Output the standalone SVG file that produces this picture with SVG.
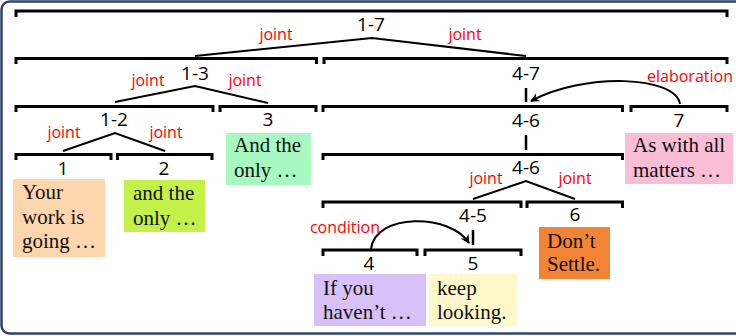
<svg xmlns="http://www.w3.org/2000/svg" width="736" height="336" viewBox="0 0 736 336">
<defs>
<style>
.br{fill:none;stroke:#000;stroke-width:3;stroke-linejoin:miter;stroke-linecap:butt}
.ln{fill:none;stroke:#000;stroke-width:2}
.tk{fill:none;stroke:#000;stroke-width:2.5}
.num{font-family:"Open Sans","Noto Sans",sans-serif;font-size:19px;fill:#000;text-anchor:middle}
.rel{font-family:"Open Sans","Noto Sans",sans-serif;font-size:16px;fill:#ff0000;text-anchor:middle}
.tx{font-family:"Liberation Serif","Times New Roman",serif;font-size:21px;fill:#111}
</style>
<marker id="ah" viewBox="0 0 10 10" refX="9" refY="5" markerWidth="9" markerHeight="9" markerUnits="userSpaceOnUse" orient="auto">
<path d="M0,0 L10,5 L0,10 L3,5 z" fill="#000"/>
</marker>
</defs>
<rect x="0" y="0" width="736" height="336" fill="#fff"/>
<rect x="1.5" y="1.5" width="745" height="332" rx="8" fill="none" stroke="#2E4468" stroke-width="2.5"/>

<g id="connectors">
<path class="br" d="M16 17V11H727V17"/>
<path class="br" d="M16 64V58.5H316.5V64"/>
<path class="br" d="M324 64V58.5H727V64"/>
<path class="br" d="M16 112V106.5H213V112"/>
<path class="br" d="M220 112V106.5H316V112"/>
<path class="br" d="M323 112V106.5H622.5V112"/>
<path class="br" d="M631 112V106.5H727V112"/>
<path class="br" d="M16 160V154.5H111V160"/>
<path class="br" d="M117.5 160V154.5H212V160"/>
<path class="br" d="M323 160V154.5H622.5V160"/>
<path class="br" d="M323 208V202H521V208"/>
<path class="br" d="M527 208V202H622.5V208"/>
<path class="br" d="M323 256V250H417V256"/>
<path class="br" d="M425 256V250H521V256"/>
<path class="ln" d="M195 56L372 38L526 56"/>
<path class="ln" d="M115 102L195 86L268 103"/>
<path class="ln" d="M63 151L115 133L165 151"/>
<path class="ln" d="M473 199L526 181L575 199"/>
<path class="tk" d="M526 88V102M526 135V150M473 230V245"/>
<path class="ln" d="M680 104C676 76 585 72 531 101" marker-end="url(#ah)"/>
<path class="ln" d="M371 249C375 213 450 213 469 243" marker-end="url(#ah)"/>
<text class="rel" x="276" y="40">joint</text>
<text class="rel" x="465" y="40">joint</text>
<text class="rel" x="148" y="86">joint</text>
<text class="rel" x="245" y="86">joint</text>
<text class="rel" x="64" y="138">joint</text>
<text class="rel" x="166" y="138">joint</text>
<text class="rel" x="486" y="184">joint</text>
<text class="rel" x="575" y="184">joint</text>
<text class="rel" x="690" y="82">elaboration</text>
<text class="rel" x="345" y="233">condition</text>
</g>

<g id="n1-7"><text class="num" x="371" y="31">1-7</text></g>
<g id="n1-3"><text class="num" x="195" y="80">1-3</text></g>
<g id="n4-7"><text class="num" x="526" y="80">4-7</text></g>
<g id="n1-2"><text class="num" x="114" y="126">1-2</text></g>
<g id="n4-6a"><text class="num" x="526" y="127">4-6</text></g>
<g id="n4-6b"><text class="num" x="526" y="174">4-6</text></g>
<g id="n4-5"><text class="num" x="473" y="222">4-5</text></g>

<g id="n1">
<text class="num" x="63" y="175">1</text>
<rect x="13" y="179" width="92" height="78" fill="#FED6AE"/>
<text class="tx" x="22" y="199">Your</text>
<text class="tx" x="22" y="224">work is</text>
<text class="tx" x="22" y="248">going …</text>
</g>
<g id="n2">
<text class="num" x="164" y="175">2</text>
<rect x="124" y="180" width="81" height="52" fill="#C3F049"/>
<text class="tx" x="133" y="200">and the</text>
<text class="tx" x="133" y="225">only …</text>
</g>
<g id="n3">
<text class="num" x="268" y="126">3</text>
<rect x="226" y="133" width="85" height="52" fill="#A8F8C1"/>
<text class="tx" x="234" y="152">And the</text>
<text class="tx" x="234" y="177">only …</text>
</g>
<g id="n4">
<text class="num" x="369" y="270">4</text>
<rect x="314" y="274" width="112" height="52" fill="#D8C1F9"/>
<text class="tx" x="323" y="295">If you</text>
<text class="tx" x="323" y="319">haven’t …</text>
</g>
<g id="n5">
<text class="num" x="473" y="270">5</text>
<rect x="429" y="274" width="88" height="52" fill="#FFF8CB"/>
<text class="tx" x="437" y="295">keep</text>
<text class="tx" x="437" y="319">looking.</text>
</g>
<g id="n6">
<text class="num" x="575" y="221">6</text>
<rect x="539" y="227" width="71" height="52" fill="#F28535"/>
<text class="tx" x="547" y="248">Don’t</text>
<text class="tx" x="547" y="271">Settle.</text>
</g>
<g id="n7">
<text class="num" x="679" y="127">7</text>
<rect x="625" y="133" width="108" height="51" fill="#F9BDD5"/>
<text class="tx" x="633" y="152">As with all</text>
<text class="tx" x="633" y="177">matters …</text>
</g>
</svg>
